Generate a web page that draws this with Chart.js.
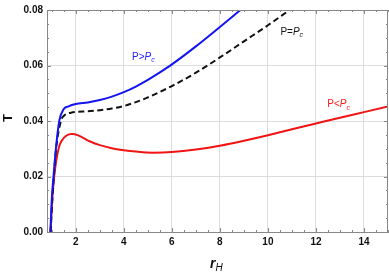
<!DOCTYPE html>
<html>
<head>
<meta charset="utf-8">
<script src="https://cdn.jsdelivr.net/npm/chart.js@4.4.1/dist/chart.umd.min.js"></script>
<style>
  body { margin: 0; background: #fff; }
  #wrap { width: 389px; height: 273px; }
</style>
</head>
<body>
<div id="wrap"><canvas id="tChart" width="389" height="273"></canvas></div>
<script>
// values
const blueR  = [0.94, 1.0, 1.07, 1.17, 1.31, 1.49, 1.7, 2.0, 2.5, 3.0, 3.5, 4.0, 4.5, 5.0, 5.5, 6.0, 7.0, 8.0, 8.85];
const blueT  = [0.0, 0.012, 0.02, 0.03, 0.04, 0.0442, 0.0453, 0.0461, 0.0467, 0.0476, 0.0488, 0.0504, 0.0524, 0.0548, 0.0575, 0.0604, 0.0669, 0.0739, 0.08];
const blackR = [0.95, 1.01, 1.07, 1.18, 1.38, 1.52, 1.8, 2.0, 2.5, 3.0, 3.5, 4.0, 4.5, 5.0, 6.0, 7.0, 8.0, 9.0, 10.0, 10.9];
const blackT = [0.0, 0.01, 0.018, 0.03, 0.04, 0.042, 0.043, 0.0433, 0.0435, 0.0439, 0.0445, 0.0454, 0.0468, 0.0485, 0.0526, 0.0574, 0.0629, 0.0687, 0.0745, 0.08];
const redR   = [0.95, 1.0, 1.1, 1.28, 1.42, 1.6, 1.84, 2.1, 2.6, 3.0, 3.5, 4.0, 4.5, 5.2, 6.0, 7.0, 8.0, 9.0, 10.0, 11.0, 12.0, 13.0, 14.0, 15.0];
const redT   = [0.0, 0.009, 0.02, 0.03, 0.033, 0.0347, 0.0353, 0.0348, 0.0326, 0.0313, 0.0302, 0.0295, 0.029, 0.0286, 0.0288, 0.0297, 0.0311, 0.0329, 0.0349, 0.037, 0.0391, 0.0412, 0.0432, 0.0452];

const xTicks = [2, 4, 6, 8, 10, 12, 14];
const yTicks = [0.00, 0.02, 0.04, 0.06, 0.08];
const curveLabels = [
  { main: 'P>', sub: 'c', r: 4.34, t: 0.063, color: 'rgb(30,30,255)' },
  { main: 'P=', sub: 'c', r: 10.52, t: 0.0719, color: '#111' },
  { main: 'P<', sub: 'c', r: 12.47, t: 0.0459, color: 'rgb(255,30,30)' }
];

const pts = (xs, ys) => xs.map((x, i) => ({ x: x, y: ys[i] }));

const frameTicks = {
  id: 'frameTicks',
  afterDraw(chart) {
    const ctx = chart.ctx, a = chart.chartArea;
    const xs = chart.scales.x, ys = chart.scales.y;
    ctx.save();
    ctx.strokeStyle = '#888';
    ctx.lineWidth = 1;
    ctx.beginPath();
    ctx.moveTo(a.left, a.top + 0.5); ctx.lineTo(a.right, a.top + 0.5);
    ctx.moveTo(a.right - 0.5, a.top); ctx.lineTo(a.right - 0.5, a.bottom);
    // x ticks, inward on bottom and top
    for (let v = 1; v <= 15; v += 0.5) {
      const len = (v % 2 === 0) ? 4 : 2;
      const px = Math.round(xs.getPixelForValue(v)) + 0.5;
      ctx.moveTo(px, a.bottom); ctx.lineTo(px, a.bottom - len);
      ctx.moveTo(px, a.top); ctx.lineTo(px, a.top + len);
    }
    for (let k = 0; k <= 16; k++) {
      const v = k * 0.005;
      const len = (k % 4 === 0) ? 4 : 2;
      const py = Math.round(ys.getPixelForValue(v)) + 0.5;
      ctx.moveTo(a.left, py); ctx.lineTo(a.left + len, py);
      ctx.moveTo(a.right, py); ctx.lineTo(a.right - len, py);
    }
    ctx.stroke();

    // curve labels
    curveLabels.forEach(l => {
      const px = xs.getPixelForValue(l.r), py = ys.getPixelForValue(l.t);
      ctx.fillStyle = l.color;
      ctx.textBaseline = 'middle';
      ctx.textAlign = 'left';
      ctx.font = '10px "Liberation Sans", Arial, sans-serif';
      ctx.fillText(l.main, px, py);
      let w = ctx.measureText(l.main).width;
      ctx.font = 'italic 10px "Liberation Sans", Arial, sans-serif';
      ctx.fillText('P', px + w, py);
      w += ctx.measureText('P').width;
      ctx.font = 'italic 7px "Liberation Sans", Arial, sans-serif';
      ctx.fillText(l.sub, px + w, py + 3);
    });

    // axis titles
    ctx.fillStyle = '#111';
    ctx.save();
    ctx.translate(8, 118);
    ctx.rotate(-Math.PI / 2);
    ctx.textAlign = 'center';
    ctx.font = 'bold 13px "Liberation Sans", Arial, sans-serif';
    ctx.fillText('T', 0, 0);
    ctx.restore();
    ctx.textAlign = 'left';
    ctx.textBaseline = 'alphabetic';
    ctx.font = 'bold italic 14px "Liberation Sans", Arial, sans-serif';
    ctx.fillText('r', 210, 268);
    const rw = ctx.measureText('r').width;
    ctx.font = 'italic 10px "Liberation Sans", Arial, sans-serif';
    ctx.fillText('H', 210 + rw, 271);
    ctx.restore();
  }
};

new Chart(document.getElementById('tChart'), {
  type: 'line',
  data: {
    datasets: [
      { data: pts(blueR, blueT), borderColor: 'rgb(20,20,240)', borderWidth: 2 },
      { data: pts(blackR, blackT), borderColor: '#111', borderWidth: 2, borderDash: [6, 3.5] },
      { data: pts(redR, redT), borderColor: 'rgb(240,20,20)', borderWidth: 2 }
    ]
  },
  plugins: [frameTicks],
  options: {
    responsive: false,
    animation: false,
    layout: { padding: { top: 5, right: 1, left: 0, bottom: 0 } },
    elements: {
      point: { radius: 0 },
      line: { cubicInterpolationMode: 'monotone', fill: false }
    },
    plugins: { legend: { display: false }, tooltip: { enabled: false } },
    scales: {
      x: {
        type: 'linear',
        min: 0.8, max: 15,
        afterBuildTicks: s => { s.ticks = xTicks.map(v => ({ value: v })); },
        afterFit: s => { s.height = 41; },
        grid: { color: '#dcdcdc', drawTicks: false },
        border: { color: '#888' },
        ticks: {
          padding: 4,
          color: '#111',
          font: { family: '"Liberation Sans", Arial, sans-serif', size: 10, weight: 'bold' }
        }
      },
      y: {
        min: 0, max: 0.08,
        afterBuildTicks: s => { s.ticks = yTicks.map(v => ({ value: v })); },
        afterFit: s => { s.width = 47; },
        grid: { color: '#dcdcdc', drawTicks: false },
        border: { color: '#888' },
        ticks: {
          padding: 4,
          color: '#111',
          callback: v => v.toFixed(2),
          font: { family: '"Liberation Sans", Arial, sans-serif', size: 10, weight: 'bold' }
        }
      }
    }
  }
});
</script>
</body>
</html>
